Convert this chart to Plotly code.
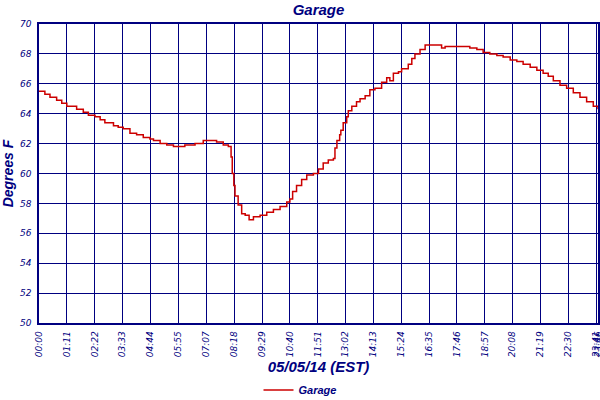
import pandas as pd
import plotly.graph_objects as go

# readings from the garage sensor, 05/05/14
times = [
    "00:00", "00:15", "00:28", "00:45", "00:58", "01:11", "01:36", "01:53", "02:06", "02:23",
    "02:36", "02:48", "03:10", "03:22", "03:35", "03:52", "04:09", "04:26", "04:43", "04:52",
    "05:09", "05:26", "05:43", "05:55", "06:12", "06:38", "06:59", "07:12", "07:33", "07:50",
    "08:03", "08:10", "08:13", "08:17", "08:20", "08:28", "08:37", "08:46", "08:56", "09:07",
    "09:24", "09:41", "09:58", "10:15", "10:32", "10:40", "10:47", "10:57", "11:10", "11:23",
    "11:40", "11:53", "12:05", "12:18", "12:31", "12:35", "12:40", "12:47", "12:50", "12:56",
    "13:05", "13:09", "13:18", "13:30", "13:39", "13:52", "14:04", "14:17", "14:30", "14:34",
    "14:47", "14:55", "15:04", "15:17", "15:25", "15:34", "15:42", "15:51", "15:59", "16:12",
    "16:25", "16:46", "17:03", "17:07", "17:16", "17:46", "18:02", "18:19", "18:37", "18:53",
    "19:10", "19:28", "19:44", "20:02", "20:19", "20:35", "20:53", "21:10", "21:26", "21:39",
    "21:52", "22:09", "22:26", "22:43", "23:00", "23:17", "23:34", "23:46",
]
temps = [
    65.5, 65.3, 65.1, 64.9, 64.7, 64.5, 64.3, 64.1, 63.9, 63.8,
    63.6, 63.4, 63.2, 63.1, 63.0, 62.7, 62.6, 62.4, 62.3, 62.2,
    62.0, 61.9, 61.8, 61.8, 61.9, 62.0, 62.2, 62.2, 62.1, 61.9,
    61.8, 61.1, 60.0, 59.2, 58.5, 57.9, 57.3, 57.2, 56.9, 57.1,
    57.2, 57.4, 57.6, 57.8, 58.1, 58.3, 58.8, 59.2, 59.6, 59.9,
    60.0, 60.3, 60.7, 60.9, 61.0, 61.7, 62.2, 62.6, 62.9, 63.4,
    63.8, 64.2, 64.5, 64.8, 65.0, 65.2, 65.6, 65.7, 65.7, 66.1,
    66.4, 66.2, 66.7, 66.8, 67.0, 67.0, 67.3, 67.7, 68.0, 68.3,
    68.6, 68.6, 68.6, 68.4, 68.5, 68.5, 68.5, 68.4, 68.3, 68.1,
    68.0, 67.9, 67.8, 67.6, 67.5, 67.3, 67.1, 66.9, 66.7, 66.5,
    66.2, 65.9, 65.7, 65.4, 65.1, 64.8, 64.5, 64.3,
]
tick_labels = [
    "00:00", "01:11", "02:22", "03:33", "04:44", "05:55", "07:07", "08:18", "09:29", "10:40",
    "11:51", "13:02", "14:13", "15:24", "16:35", "17:46", "18:57", "20:08", "21:19", "22:30",
    "23:41", "23:46",
]

day = "2014-05-05 "
x = pd.to_datetime([day + t for t in times])
tickvals = pd.to_datetime([day + t for t in tick_labels])

navy = "#000080"
tick_face = "DejaVu Sans"
title_face = "Liberation Sans"

fig = go.Figure()
fig.add_trace(
    go.Scatter(
        x=x,
        y=temps,
        name="Garage",
        mode="lines",
        line=dict(color="#cc0000", width=1.5, shape="hv"),
    )
)

fig.update_layout(
    width=600,
    height=400,
    margin=dict(l=39, r=2, t=24, b=77),
    paper_bgcolor="white",
    plot_bgcolor="white",
    font=dict(family=tick_face, color=navy),
    title=dict(
        text="Garage",
        x=0.5,
        xref="paper",
        y=0.975,
        yref="container",
        yanchor="middle",
        font=dict(family=title_face, size=15, weight="bold", style="italic", color=navy),
    ),
    showlegend=True,
    legend=dict(
        orientation="h",
        xref="container",
        x=0.5,
        xanchor="center",
        yref="container",
        y=0.025,
        yanchor="middle",
        itemwidth=30,
        font=dict(family=title_face, size=11, weight="bold", style="italic", color=navy),
    ),
)

fig.update_xaxes(
    automargin=False,
    range=[tickvals[0], tickvals[-1]],
    tickvals=tickvals,
    ticktext=tick_labels,
    tickangle=-90,
    ticklabeloverflow="allow",
    ticklabelstandoff=3,
    tickfont=dict(size=9, style="italic", color=navy),
    showgrid=True,
    gridcolor=navy,
    gridwidth=1.4,
    showline=True,
    linecolor=navy,
    linewidth=1.5,
    mirror=True,
    ticks="",
    title=dict(
        text="05/05/14 (EST)",
        standoff=14,
        font=dict(family=title_face, size=15, weight="bold", style="italic", color=navy),
    ),
)
fig.update_yaxes(
    automargin=False,
    range=[50, 70],
    dtick=2,
    tickfont=dict(size=9, style="italic", color=navy),
    ticklabelstandoff=4,
    showgrid=True,
    gridcolor=navy,
    gridwidth=1.4,
    showline=True,
    linecolor=navy,
    linewidth=1.5,
    mirror=True,
    ticks="",
    zeroline=False,
    title=dict(
        text="Degrees F",
        standoff=4,
        font=dict(family=title_face, size=14, weight="bold", style="italic", color=navy),
    ),
)

# the page body has a default 8px margin; drop it so the figure sits at 0,0
fig.write_html(
    "out.html",
    config={"displayModeBar": False},
    post_script="document.body.style.margin='0';",
)
